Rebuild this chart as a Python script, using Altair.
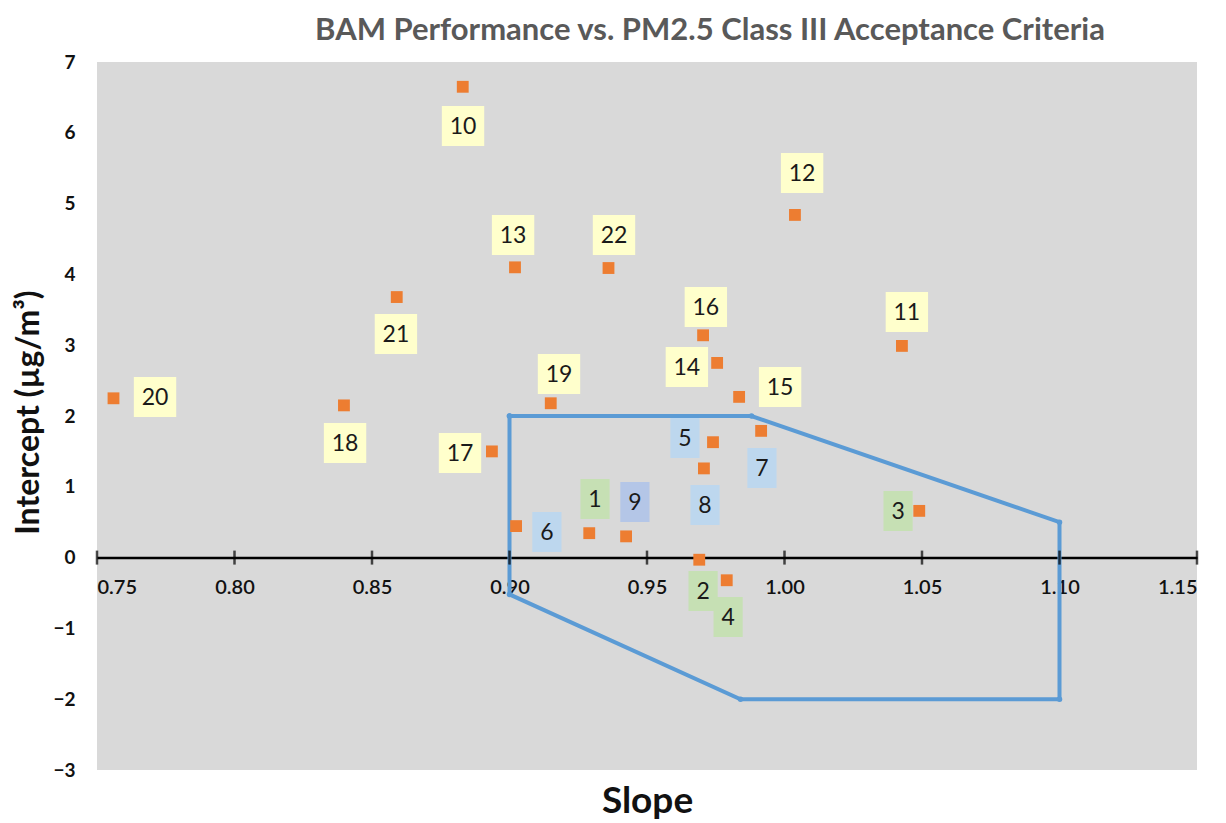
import altair as alt
import pandas as pd

# ---- data ----
site_ids = list(range(1, 23))
slope = [0.929, 0.969, 1.049, 0.979, 0.974, 0.9024, 0.9915, 0.9707, 0.9424, 0.883, 1.0427,
         1.0038, 0.902, 0.9755, 0.9835, 0.9704, 0.8936, 0.8398, 0.915, 0.756, 0.859, 0.936]
intercept = [0.345, -0.03, 0.66, -0.32, 1.63, 0.445, 1.79, 1.26, 0.30, 6.65, 2.99,
             4.84, 4.10, 2.75, 2.27, 3.14, 1.50, 2.15, 2.18, 2.25, 3.68, 4.09]
label_x = [0.9311, 0.9704, 1.0413, 0.9795, 0.9638, 0.9136, 0.9918, 0.9711, 0.9456, 0.8831, 1.0445,
           1.0064, 0.9013, 0.9645, 0.9984, 0.9714, 0.882, 0.8402, 0.918, 0.7711, 0.8587, 0.938]
label_y = [0.826, -0.473, 0.657, -0.84, 1.688, 0.36, 1.264, 0.742, 0.784, 6.095, 3.468,
           5.431, 4.555, 2.691, 2.408, 3.538, 1.476, 1.617, 2.592, 2.267, 3.157, 4.555]
label_group = ["g", "g", "g", "g", "b", "b", "b", "b", "p"] + ["y"] * 13

crit_slope = [0.90, 0.988, 1.10, 1.10, 0.984, 0.90, 0.90]
crit_intercept = [2.0, 2.0, 0.5, -2.0, -2.0, -0.52, 2.0]

x_ticks = [0.75, 0.80, 0.85, 0.90, 0.95, 1.00, 1.05, 1.10, 1.15]
y_ticks = [-3, -2, -1, 0, 1, 2, 3, 4, 5, 6, 7]

# ---- tables ----
pts = pd.DataFrame({
    "id": [str(i) for i in site_ids],
    "slope": slope,
    "intercept": intercept,
    "lx": label_x,
    "ly": label_y,
    "grp": label_group,
    "w": ["1" if i < 10 else "2" for i in site_ids],
})
poly = pd.DataFrame({"slope": crit_slope, "intercept": crit_intercept,
                     "order": list(range(len(crit_slope)))})
ticks = pd.DataFrame({"slope": x_ticks, "zero": [0] * len(x_ticks)})

FONT = "Lato"
xscale = alt.Scale(domain=[0.75, 1.15], nice=False, zero=False)
yscale = alt.Scale(domain=[-3, 7], nice=False, zero=False)

PLOT_H = 708
axis_offset = -PLOT_H * 3 / 10

xaxis = alt.Axis(
    values=x_ticks, format=".2f", grid=False, ticks=False,
    domainColor="black", domainWidth=2.5, offset=axis_offset,
    labelFont=FONT, labelFontSize=20, labelFontWeight=600, labelColor="#111111",
    labelPadding=20, labelOverlap=False,
    title="Slope", titleFont=FONT, titleFontSize=37, titleFontWeight="bold",
    titleColor="#111111", titleY=244, titleBaseline="middle",
)
yaxis = alt.Axis(
    values=y_ticks, format="d", grid=False, ticks=False, domain=False,
    labelFont=FONT, labelFontSize=19, labelFontWeight="bold", labelColor="#111111",
    labelPadding=22,
    title="Intercept (µg/m³)", titleFont=FONT, titleFontSize=32, titleFontWeight="bold",
    titleColor="#111111", titleX=-69, titleY=PLOT_H / 2 - 4, titleAngle=-90,
    titleAlign="center", titleBaseline="middle",
)

base_x = alt.X("slope:Q", scale=xscale, axis=xaxis)
base_y = alt.Y("intercept:Q", scale=yscale, axis=yaxis)

poly_line = alt.Chart(poly).mark_line(color="#5B9BD5", strokeWidth=4).encode(
    x=base_x, y=base_y, order="order:Q")
poly_pts = alt.Chart(poly).mark_point(color="#5B9BD5", filled=True, size=30, opacity=1).encode(
    x="slope:Q", y="intercept:Q")

tick_marks = alt.Chart(ticks).mark_tick(color="black", thickness=2.5, size=14, orient="vertical").encode(
    x="slope:Q", y=alt.Y("zero:Q"))

points = alt.Chart(pts).mark_point(shape="square", filled=True, size=140, color="#ED7D31", opacity=1).encode(
    x="slope:Q", y="intercept:Q")

box_paths = ["M-0.73,-1L0.73,-1L0.73,1L-0.73,1Z", "M-1.06,-1L1.06,-1L1.06,1L-1.06,1Z"]
boxes = alt.Chart(pts).mark_point(filled=True, size=1600, opacity=1, strokeWidth=0).encode(
    x="lx:Q", y="ly:Q",
    shape=alt.Shape("w:N", scale=alt.Scale(domain=["1", "2"], range=box_paths), legend=None),
    color=alt.Color("grp:N", scale=alt.Scale(domain=["y", "b", "g", "p"],
                                             range=["#FFFFCC", "#BDD7EE", "#C6E0B4", "#B4C6E7"]),
                    legend=None),
)
texts = alt.Chart(pts).mark_text(font=FONT, fontSize=23, color="#1a1a1a", baseline="middle",
                                 align="center", dy=1).encode(
    x="lx:Q", y="ly:Q", text="id:N")

chart = alt.layer(poly_line, poly_pts, tick_marks, points, boxes, texts).properties(
    width=1100, height=PLOT_H,
    title=alt.TitleParams(
        "BAM Performance vs. PM2.5 Class III Acceptance Criteria",
        font=FONT, fontSize=31, fontWeight="bold", color="#595959",
        anchor="middle", dx=63, offset=6,
    ),
    autosize=alt.AutoSizeParams(type="none"),
    padding={"left": 89, "top": 54, "right": 20, "bottom": 55},
).configure_view(fill="#D9D9D9", stroke=None)

chart.save("out.html", embed_options={"renderer": "svg", "actions": False})
